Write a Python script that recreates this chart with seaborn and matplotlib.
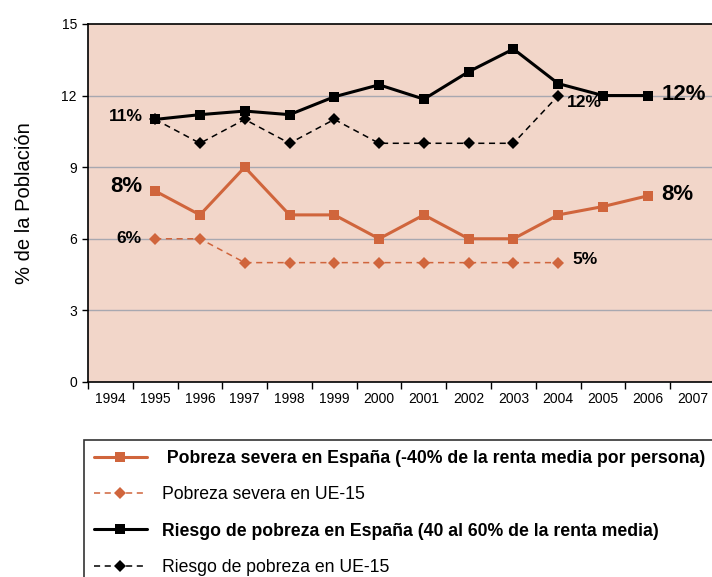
# Pobreza severa y riesgo de pobreza: España vs UE-15
import seaborn as sns
import matplotlib.pyplot as plt
import pandas as pd
import numpy as np

years = list(range(1994, 2008))
years_es = list(range(1995, 2007))
years_ue = list(range(1995, 2005))

severa_es = [8, 7, 9, 7, 7, 6, 7, 6, 6, 7, 7.35, 7.8]
severa_ue = [6, 6, 5, 5, 5, 5, 5, 5, 5, 5]
riesgo_es = [11, 11.2, 11.35, 11.2, 11.95, 12.45, 11.85, 13, 13.95, 12.5, 12, 12]
riesgo_ue = [11, 10, 11, 10, 11, 10, 10, 10, 10, 12]

labels = [' Pobreza severa en España (-40% de la renta media por persona)',
          'Pobreza severa en UE-15',
          'Riesgo de pobreza en España (40 al 60% de la renta media)',
          'Riesgo de pobreza en UE-15']

ORANGE = '#D0653C'
BG = '#F2D6C9'

sns.set_style('white')
plt.rcParams['font.family'] = ['Liberation Sans', 'DejaVu Sans']
plt.rcParams.update({'text.color': 'black', 'axes.labelcolor': 'black',
                     'xtick.color': 'black', 'ytick.color': 'black'})

fig = plt.figure(figsize=(7.12, 5.77), dpi=100)
ax = fig.add_axes([0.1236, 0.338, 0.8806, 0.6205])
ax.set_facecolor(BG)

sns.lineplot(x=years_es, y=severa_es, ax=ax, color=ORANGE, lw=2.2, marker='s',
             markersize=7, markeredgewidth=0, label=labels[0])
sns.lineplot(x=years_ue, y=severa_ue, ax=ax, color=ORANGE, lw=1.1, marker='D',
             markersize=6, markeredgewidth=0, dashes=(4, 3), label=labels[1])
sns.lineplot(x=years_es, y=riesgo_es, ax=ax, color='black', lw=2.2, marker='s',
             markersize=7, markeredgewidth=0, label=labels[2])
sns.lineplot(x=years_ue, y=riesgo_ue, ax=ax, color='black', lw=1.1, marker='D',
             markersize=6, markeredgewidth=0, dashes=(4, 3), label=labels[3])

ax.set_xlim(years[0] - 0.5, years[-1] + 0.5)
ax.set_ylim(0, 15)
ax.set_yticks([0, 3, 6, 9, 12, 15])
ax.tick_params(axis='y', labelsize=10, length=4, width=1, direction='out',
               color='black', left=True, pad=4)
ax.set_xticks(np.arange(years[0] - 0.5, years[-1] + 1), labels=[])
ax.set_xticks(years, labels=[str(y) for y in years], minor=True)
ax.tick_params(axis='x', which='major', length=5, width=1, direction='out',
               color='black', bottom=True)
ax.tick_params(axis='x', which='minor', length=0, labelsize=10, pad=7)

for y in [3, 6, 9, 12]:
    ax.axhline(y, color='#A8A8B0', lw=1, zorder=0)

for side in ['left', 'bottom', 'top']:
    ax.spines[side].set_color('black')
    ax.spines[side].set_linewidth(1.2)
ax.spines['right'].set_visible(False)

ax.set_ylabel('% de la Población', fontsize=14.5, labelpad=20)
ax.set_xlabel('')

# etiquetas de valores
def etiqueta(txt, x, y, dx, dy, size, ha):
    ax.annotate(txt, (x, y), xytext=(dx, dy), textcoords='offset points',
                ha=ha, va='center', fontsize=size, fontweight='bold')

etiqueta('11%', years_es[0], riesgo_es[0], -9, 2, 12.5, 'right')
etiqueta('8%', years_es[0], severa_es[0], -9, 3, 16, 'right')
etiqueta('6%', years_ue[0], severa_ue[0], -10, 0, 12.5, 'right')
etiqueta('5%', years_ue[-1], severa_ue[-1], 10, 2, 12.5, 'left')
etiqueta('12%', years_ue[-1], riesgo_ue[-1], 6, -5, 12.5, 'left')
etiqueta('12%', years_es[-1], riesgo_es[-1], 10, 1, 16, 'left')
etiqueta('8%', years_es[-1], severa_es[-1], 10, 1, 16, 'left')

handles, labs = ax.get_legend_handles_labels()
ax.get_legend().remove()
leg = fig.legend(handles, labs, loc='upper left', bbox_to_anchor=(0.118, 0.2374),
                 fontsize=12.7, frameon=True, fancybox=False, edgecolor='black',
                 handlelength=3.0, handletextpad=0.85, labelspacing=1.1,
                 borderpad=0.55, borderaxespad=0)
leg.get_frame().set_linewidth(1.2)
for i, t in enumerate(leg.get_texts()):
    if i in (0, 2):
        t.set_fontweight('bold')

fig.savefig('out.png', dpi=100)
